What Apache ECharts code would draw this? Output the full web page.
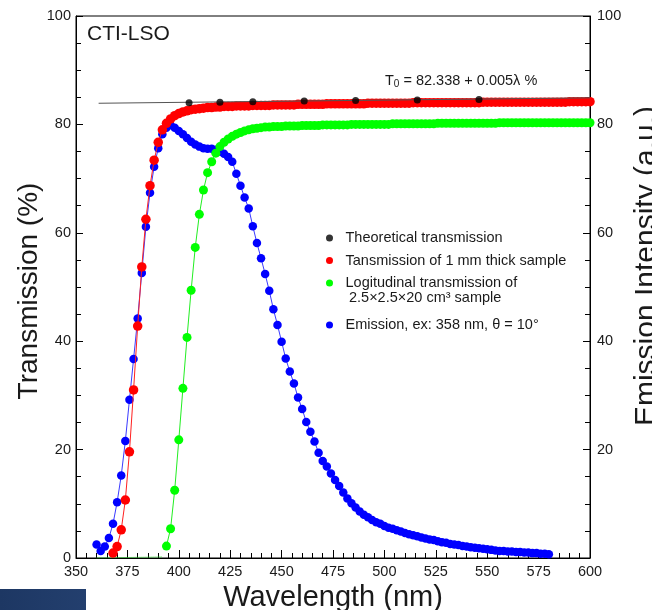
<!DOCTYPE html>
<html>
<head>
<meta charset="utf-8">
<script src="https://cdn.jsdelivr.net/npm/echarts@6/dist/echarts.min.js"></script>
<style>
  html, body { margin: 0; padding: 0; background: #fff; overflow: hidden; }
  #chart { width: 652px; height: 610px; }
</style>
</head>
<body>
<div id="chart"></div>
<script>
// wavelength grid (nm), 2 nm steps
const wl = [
  360, 362, 364, 366, 368, 370, 372, 374, 376, 378, 380,
  382, 384, 386, 388, 390, 392, 394, 396, 398, 400,
  402, 404, 406, 408, 410, 412, 414, 416, 418, 420,
  422, 424, 426, 428, 430, 432, 434, 436, 438, 440,
  442, 444, 446, 448, 450, 452, 454, 456, 458, 460,
  462, 464, 466, 468, 470, 472, 474, 476, 478, 480,
  482, 484, 486, 488, 490, 492, 494, 496, 498, 500,
  502, 504, 506, 508, 510, 512, 514, 516, 518, 520,
  522, 524, 526, 528, 530, 532, 534, 536, 538, 540,
  542, 544, 546, 548, 550, 552, 554, 556, 558, 560,
  562, 564, 566, 568, 570, 572, 574, 576, 578, 580,
  582, 584, 586, 588, 590, 592, 594, 596, 598, 600
]

// emission, ex: 358 nm (right axis)
const emission = [
  2.5, 1.3, 2.1, 3.7, 6.3, 10.3, 15.2, 21.6, 29.2, 36.7, 44.2,
  52.6, 61.1, 67.4, 72.2, 75.6, 78.2, 79.4, 79.9, 79.4, 78.8,
  78.2, 77.5, 76.8, 76.3, 75.9, 75.6, 75.5, 75.5, 75.3, 75.0,
  74.6, 74.0, 73.1, 70.9, 68.7, 66.5, 64.5, 61.2, 58.1, 55.3,
  52.4, 49.3, 45.9, 43.0, 39.9, 36.8, 34.4, 32.2, 29.6, 27.5,
  25.1, 23.3, 21.5, 19.4, 17.9, 16.9, 15.6, 14.4, 13.3, 12.1,
  11.0, 10.1, 9.3, 8.6, 8.0, 7.5, 7.0, 6.6, 6.3, 5.9,
  5.6, 5.4, 5.1, 4.9, 4.6, 4.4, 4.2, 4.0, 3.8, 3.6,
  3.4, 3.3, 3.1, 2.9, 2.8, 2.6, 2.5, 2.4, 2.2, 2.1,
  2.0, 1.9, 1.8, 1.7, 1.6, 1.5, 1.4, 1.3, 1.3, 1.2,
  1.2, 1.1, 1.1, 1.0, 1.0, 0.9, 0.9, 0.8, 0.8, 0.7,
  null, null, null, null, null, null, null, null, null, null
]

// transmission of 1 mm thick sample
const trans1mm = [
  null, null, null, null, 0.9, 2.1, 5.2, 10.7, 19.6, 31.0, 42.8,
  53.7, 62.5, 68.7, 73.4, 76.7, 79.0, 80.2, 81.0, 81.6, 82.0,
  82.3, 82.5, 82.7, 82.8, 82.9, 83.0, 83.1, 83.1, 83.2, 83.2,
  83.3, 83.3, 83.3, 83.4, 83.4, 83.4, 83.4, 83.5, 83.5, 83.5,
  83.5, 83.5, 83.6, 83.6, 83.6, 83.6, 83.6, 83.6, 83.7, 83.7,
  83.7, 83.7, 83.7, 83.7, 83.7, 83.8, 83.8, 83.8, 83.8, 83.8,
  83.8, 83.8, 83.8, 83.8, 83.8, 83.9, 83.9, 83.9, 83.9, 83.9,
  83.9, 83.9, 83.9, 83.9, 83.9, 83.9, 84.0, 84.0, 84.0, 84.0,
  84.0, 84.0, 84.0, 84.0, 84.0, 84.0, 84.0, 84.0, 84.0, 84.0,
  84.0, 84.0, 84.0, 84.1, 84.1, 84.1, 84.1, 84.1, 84.1, 84.1,
  84.1, 84.1, 84.1, 84.1, 84.1, 84.1, 84.1, 84.1, 84.1, 84.1,
  84.1, 84.1, 84.1, 84.1, 84.2, 84.2, 84.2, 84.2, 84.2, 84.2
]

// longitudinal transmission of 2.5x2.5x20 cm3 sample
const transLong = [
  null, null, null, null, null, null, null, null, null, null, null,
  null, null, null, null, null, null, 2.2, 5.4, 12.5, 21.8,
  31.3, 40.7, 49.4, 57.3, 63.4, 67.9, 71.1, 73.1, 74.7, 75.9,
  76.7, 77.3, 77.8, 78.2, 78.5, 78.8, 79.0, 79.2, 79.3, 79.4,
  79.5, 79.5, 79.6, 79.6, 79.6, 79.7, 79.7, 79.7, 79.7, 79.8,
  79.8, 79.8, 79.8, 79.8, 79.9, 79.9, 79.9, 79.9, 79.9, 79.9,
  79.9, 80.0, 80.0, 80.0, 80.0, 80.0, 80.0, 80.0, 80.0, 80.0,
  80.0, 80.1, 80.1, 80.1, 80.1, 80.1, 80.1, 80.1, 80.1, 80.1,
  80.1, 80.1, 80.2, 80.2, 80.2, 80.2, 80.2, 80.2, 80.2, 80.2,
  80.2, 80.2, 80.2, 80.2, 80.2, 80.2, 80.2, 80.3, 80.3, 80.3,
  80.3, 80.3, 80.3, 80.3, 80.3, 80.3, 80.3, 80.3, 80.3, 80.3,
  80.3, 80.3, 80.3, 80.3, 80.3, 80.3, 80.3, 80.3, 80.3, 80.3
]
const longBaseWl = [360, 392]
const longBaseVals = [0, 0.2]

// theoretical transmission points and fitted line
const theoryWl = [405, 420, 436, 461, 486, 516, 546]
const theoryVals = [84.0, 84.1, 84.2, 84.3, 84.4, 84.5, 84.6]
const fitWl = [361, 600]
const fitVals = [83.9, 84.9]

const xTicks = [350, 375, 400, 425, 450, 475, 500, 525, 550, 575, 600]
const yTicks = [0, 20, 40, 60, 80, 100]

const pairs = (xs, ys) => xs.map((x, i) => [x, ys[i]]).filter(p => p[1] != null)

const font = 'Liberation Sans, Arial, Helvetica, sans-serif'
const ink = '#1a1a1a'

const valueAxisY = (pos, showZero) => ({
  type: 'value',
  position: pos,
  min: yTicks[0],
  max: yTicks[yTicks.length - 1],
  interval: 20,
  axisLine: { show: true, lineStyle: { color: '#000', width: 1 } },
  axisTick: { show: true, inside: true, length: 7, lineStyle: { color: '#000' } },
  minorTick: { show: true, splitNumber: 4, length: 5, lineStyle: { color: '#000' } },
  splitLine: { show: false },
  axisLabel: {
    margin: pos === 'left' ? 5 : 7,
    color: ink,
    fontFamily: font,
    fontSize: 14.5,
    formatter: v => (v === 0 && !showZero) ? '' : String(v)
  }
})

const chart = echarts.init(document.getElementById('chart'), null, { renderer: 'canvas' })

const option = {
  animation: false,
  backgroundColor: '#fff',
  grid: {
    left: 76, right: 62, top: 16, bottom: 52,
    containLabel: false,
    outerBoundsMode: 'none',
    show: true, borderColor: '#000', borderWidth: 1, backgroundColor: 'transparent'
  },
  xAxis: {
    type: 'value',
    min: xTicks[0],
    max: xTicks[xTicks.length - 1],
    interval: 25,
    name: 'Wavelength (nm)',
    nameLocation: 'middle',
    nameGap: 21,
    nameTextStyle: { fontFamily: font, fontSize: 29, color: ink },
    axisLine: { show: true, lineStyle: { color: '#000', width: 1 } },
    axisTick: { show: true, inside: true, length: 8, lineStyle: { color: '#000' } },
    minorTick: { show: true, splitNumber: 5, length: 5, lineStyle: { color: '#000' } },
    splitLine: { show: false },
    axisLabel: { margin: 6, color: ink, fontFamily: font, fontSize: 14.5 }
  },
  yAxis: [
    Object.assign(valueAxisY('left', true), {
      name: 'Transmission (%)',
      nameLocation: 'middle',
      nameGap: 33,
      nameMoveOverlap: false,
      nameTextStyle: { fontFamily: font, fontSize: 28, color: ink, padding: [0, 8, 0, 0] }
    }),
    Object.assign(valueAxisY('right', false), {
      name: 'Emission Intensity (a.u.)',
      nameLocation: 'middle',
      nameGap: 38,
      nameTextStyle: { fontFamily: font, fontSize: 30, color: ink, padding: [0, 0, 0, 42] }
    })
  ],
  legend: [
    {
      orient: 'vertical',
      left: 321,
      top: 224.5,
      itemWidth: 22,
      itemHeight: 7,
      itemGap: 5.5,
      icon: 'circle',
      selectedMode: false,
      textStyle: { fontFamily: font, fontSize: 14.5, color: ink, lineHeight: 17 },
      data: ['Theoretical transmission', 'Tansmission of 1 mm thick sample', 'Logitudinal transmission of']
    },
    {
      orient: 'vertical',
      left: 321,
      top: 311.5,
      itemWidth: 22,
      itemHeight: 7,
      icon: 'circle',
      selectedMode: false,
      textStyle: { fontFamily: font, fontSize: 14.5, color: ink, lineHeight: 17 },
      data: ['Emission, ex: 358 nm, θ = 10°']
    }
  ],
  graphic: [
    {
      type: 'text', left: 87, top: 24,
      style: { text: 'CTI-LSO', fontFamily: font, fontSize: 21, fill: ink }
    },
    {
      type: 'text', left: 385, top: 73,
      style: {
        text: '{a|T}{s|0}{a| = 82.338 + 0.005λ %}',
        rich: {
          a: { fontFamily: font, fontSize: 14.5, fill: ink, lineHeight: 18 },
          s: { fontFamily: font, fontSize: 10, fill: ink, lineHeight: 10, verticalAlign: 'bottom' }
        }
      }
    },
    {
      type: 'text', left: 349, top: 290,
      style: { text: '2.5×2.5×20 cm³ sample', fontFamily: font, fontSize: 14.5, fill: ink }
    },
    {
      type: 'rect', left: 0, top: 589,
      shape: { width: 86, height: 21 },
      style: {
        fill: new echarts.graphic.LinearGradient(0, 0, 1, 0, [
          { offset: 0, color: '#1d3763' },
          { offset: 1, color: '#233f6e' }
        ])
      }
    }
  ],
  series: [
    {
      name: 'Emission, ex: 358 nm, θ = 10°',
      type: 'line',
      yAxisIndex: 1,
      data: pairs(wl, emission),
      symbol: 'circle',
      symbolSize: 8.5,
      color: '#0000ff',
      lineStyle: { color: '#3a3aff', width: 1 },
      z: 2
    },
    {
      name: 'green-baseline',
      type: 'line',
      data: pairs(longBaseWl, longBaseVals),
      symbol: 'none',
      lineStyle: { color: '#22dd22', width: 1, type: 'dotted' },
      z: 3
    },
    {
      name: 'Logitudinal transmission of',
      type: 'line',
      data: pairs(wl, transLong),
      symbol: 'circle',
      symbolSize: 9,
      color: '#00ff00',
      lineStyle: { color: '#22ee22', width: 1 },
      z: 3
    },
    {
      name: 'Tansmission of 1 mm thick sample',
      type: 'line',
      data: pairs(wl, trans1mm),
      symbol: 'circle',
      symbolSize: 9.5,
      color: '#ff0000',
      lineStyle: { color: '#ff2020', width: 1 },
      z: 4
    },
    {
      name: 'fit',
      type: 'line',
      data: pairs(fitWl, fitVals),
      symbol: 'none',
      lineStyle: { color: '#555', width: 1 },
      z: 5
    },
    {
      name: 'Theoretical transmission',
      type: 'scatter',
      data: pairs(theoryWl, theoryVals),
      symbol: 'circle',
      symbolSize: 7,
      color: '#000',
      z: 6
    }
  ]
}

chart.setOption(option)
</script>
</body>
</html>
